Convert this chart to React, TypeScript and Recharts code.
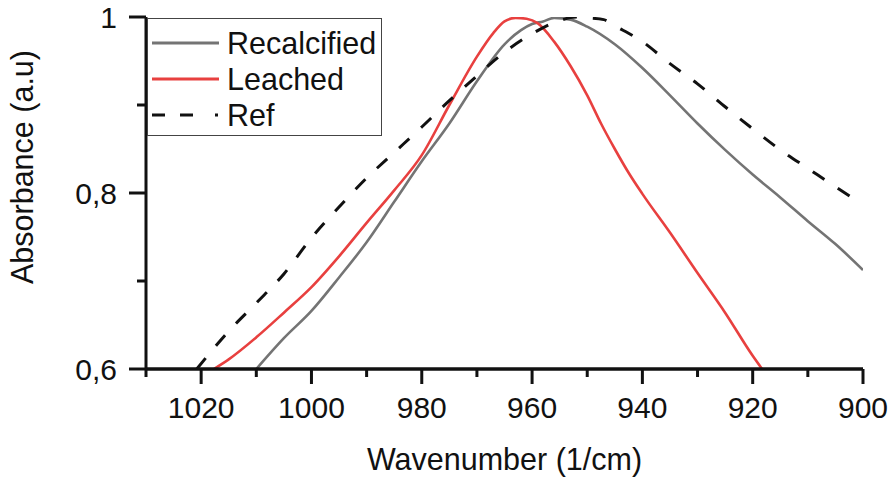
import React from 'react';
import { LineChart, Line, XAxis, YAxis, Legend } from 'recharts';

// wavenumber (1/cm) / absorbance pairs
const recalcifiedWn = [1010, 1005, 1000, 995, 990, 985, 980, 975, 970, 965, 962, 960, 958, 956, 953, 950, 945, 940, 935, 930, 925, 920, 915, 910, 905, 900];
const recalcifiedAbs = [0.6, 0.635, 0.666, 0.704, 0.744, 0.79, 0.836, 0.879, 0.927, 0.969, 0.985, 0.992, 0.995, 0.999, 0.997, 0.989, 0.969, 0.942, 0.911, 0.879, 0.849, 0.821, 0.795, 0.768, 0.742, 0.7125];

const leachedWn = [1017.7, 1015, 1010, 1005, 1000, 995, 990, 985, 980, 975, 970, 967, 965, 963, 961, 959, 956, 953, 950, 947.5, 945, 942.5, 940, 935, 930, 925, 920, 918.3];
const leachedAbs = [0.6, 0.611, 0.636, 0.664, 0.693, 0.728, 0.766, 0.803, 0.843, 0.9, 0.955, 0.982, 0.995, 0.999, 0.998, 0.993, 0.972, 0.944, 0.911, 0.879, 0.85, 0.823, 0.799, 0.755, 0.709, 0.664, 0.615, 0.6];

const refWn = [1020.8, 1015, 1010, 1005, 1000, 995, 990, 985, 980, 975, 970, 965, 960, 955, 952, 950, 947, 945, 940, 935, 930, 925, 920, 915, 910, 905, 900];
const refAbs = [0.6, 0.643, 0.675, 0.708, 0.749, 0.784, 0.817, 0.846, 0.875, 0.905, 0.933, 0.96, 0.981, 0.996, 1.0, 0.999, 0.997, 0.99, 0.972, 0.947, 0.924, 0.898, 0.873, 0.849, 0.828, 0.807, 0.787];

const seriesOrder = ['Recalcified', 'Leached', 'Ref'];
const xTicks = [1030, 1020, 1010, 1000, 990, 980, 970, 960, 950, 940, 930, 920, 910, 900];
const yTicks = [0.6, 0.7, 0.8, 0.9, 1];

const toRows = (wn: number[], abs: number[]) => wn.map((w, i) => ({ wn: w, abs: abs[i] }));

const FONT = '"Liberation Sans", Arial, sans-serif';
const INK = '#111';

const XTick = ({ x, y, payload }: any) => {
  const v = payload.value;
  const major = v % 20 === 0;
  return (
    <g>
      <line x1={x} x2={x} y1={y} y2={y + (major ? 15 : 8)} stroke={INK} strokeWidth={3} />
      {major && (
        <text x={x} y={y + 49} textAnchor="middle" fontSize={30} fontFamily={FONT} fill={INK}>
          {v}
        </text>
      )}
    </g>
  );
};

const YTick = ({ x, y, payload }: any) => {
  const v = payload.value;
  const major = Math.round(v * 10) % 2 === 0;
  const label = v === 1 ? '1' : v.toFixed(1).replace('.', ',');
  return (
    <g>
      <line x1={x - (major ? 17 : 9)} x2={x} y1={y} y2={y} stroke={INK} strokeWidth={3} />
      {major && (
        <text x={x - 29} y={y + 11} textAnchor="end" fontSize={30} fontFamily={FONT} fill={INK}>
          {label}
        </text>
      )}
    </g>
  );
};

const XTitle = ({ viewBox }: any) => (
  <text x={viewBox.x + viewBox.width / 2} y={viewBox.y + 101} textAnchor="middle" fontSize={30.5} fontFamily={FONT} fill={INK}>
    Wavenumber (1/cm)
  </text>
);

const YTitle = ({ viewBox }: any) => (
  <text
    x={33}
    y={viewBox.y + 150}
    transform={`rotate(-90, 33, ${viewBox.y + 150})`}
    textAnchor="middle"
    fontSize={30.5}
    fontFamily={FONT}
    fill={INK}
  >
    Absorbance (a.u)
  </text>
);

const LegendBox = ({ payload }: any) => {
  const items = [...(payload || [])].sort((a: any, b: any) => seriesOrder.indexOf(a.value) - seriesOrder.indexOf(b.value));
  return (
    <div
      style={{
        width: 235,
        height: 118,
        boxSizing: 'border-box',
        border: '1.5px solid #444',
        background: '#fff',
        paddingTop: 6,
      }}
    >
      {items.map((entry: any) => (
        <div key={entry.value} style={{ display: 'flex', alignItems: 'center', height: 36 }}>
          <svg width={80} height={20} style={{ marginLeft: 3 }}>
            <line
              x1={1}
              x2={68}
              y1={10}
              y2={10}
              stroke={entry.color}
              strokeWidth={3}
              strokeDasharray={entry.payload?.strokeDasharray ? '13 15 13 22 3 100' : undefined}
            />
          </svg>
          <span style={{ fontFamily: FONT, fontSize: 30.5, color: INK, lineHeight: 1, marginLeft: -4 }}>{entry.value}</span>
        </div>
      ))}
    </div>
  );
};

export default function App() {
  return (
    <div style={{ position: 'absolute', left: 0, top: 0, background: '#fff' }}>
      <LineChart width={891} height={479} margin={{ top: 17, right: 28, bottom: 0, left: 0 }}>
        <XAxis
          dataKey="wn"
          type="number"
          domain={[900, 1030]}
          reversed
          ticks={xTicks}
          interval={0}
          height={110}
          tickSize={0}
          tickMargin={0}
          tickLine={false}
          tick={<XTick />}
          axisLine={{ stroke: INK, strokeWidth: 3.5 }}
          label={<XTitle />}
          allowDataOverflow
        />
        <YAxis
          type="number"
          domain={[0.6, 1]}
          ticks={yTicks}
          interval={0}
          width={146}
          tickSize={0}
          tickMargin={0}
          tickLine={false}
          tick={<YTick />}
          axisLine={{ stroke: INK, strokeWidth: 3 }}
          label={<YTitle />}
          allowDataOverflow
        />
        <Legend
          layout="vertical"
          align="center"
          verticalAlign="middle"
          itemSorter={null as any}
          wrapperStyle={{ left: 147, top: 18, width: 235, height: 118 }}
          content={<LegendBox />}
        />
        <Line
          data={toRows(recalcifiedWn, recalcifiedAbs)}
          dataKey="abs"
          name="Recalcified"
          type="monotone"
          stroke="#747474"
          strokeWidth={2.6}
          dot={false}
          isAnimationActive={false}
        />
        <Line
          data={toRows(leachedWn, leachedAbs)}
          dataKey="abs"
          name="Leached"
          type="monotone"
          stroke="#e8403f"
          strokeWidth={2.6}
          dot={false}
          isAnimationActive={false}
        />
        <Line
          data={toRows(refWn, refAbs)}
          dataKey="abs"
          name="Ref"
          type="monotone"
          stroke={INK}
          strokeWidth={3}
          strokeDasharray="14 16"
          dot={false}
          isAnimationActive={false}
        />
      </LineChart>
    </div>
  );
}
